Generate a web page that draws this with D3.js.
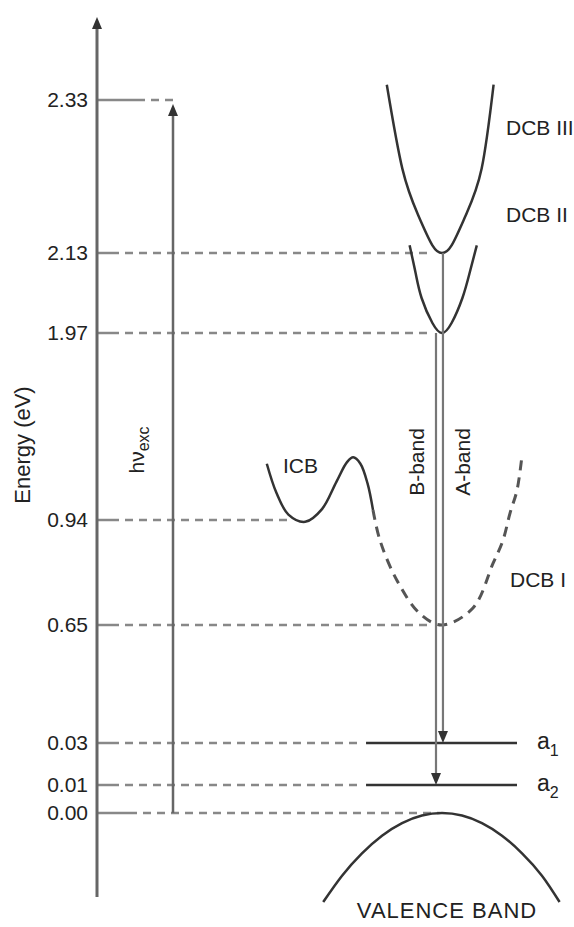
<!DOCTYPE html>
<html>
<head>
<meta charset="utf-8">
<script src="https://cdn.jsdelivr.net/npm/d3@7"></script>
<style>
body { margin: 0; background: #fff; }
text { font-family: "Liberation Sans", Arial, sans-serif; fill: #222; }
</style>
</head>
<body>
<div id="chart"></div>
<script>
// energy levels (eV) marked on the axis
var levels = [0.00, 0.01, 0.03, 0.65, 0.94, 1.97, 2.13, 2.33];
var tickLabels = ["0.00", "0.01", "0.03", "0.65", "0.94", "1.97", "2.13", "2.33"];

// band curves: [k (arbitrary units), energy eV]
var dcb3 = [[-0.46, 2.35], [-0.33, 2.24], [-0.2, 2.18], [-0.08, 2.14], [0, 2.13], [0.08, 2.14], [0.2, 2.18], [0.33, 2.24], [0.43, 2.35]];
var dcb2 = [[-0.27, 2.14], [-0.22, 2.09], [-0.17, 2.04], [-0.08, 1.99], [0, 1.97], [0.08, 1.99], [0.17, 2.04], [0.23, 2.09], [0.29, 2.14]];
var icb = [[-1.46, 1.25], [-1.38, 1.09], [-1.28, 0.97], [-1.14, 0.935], [-1.0, 1.0], [-0.88, 1.15], [-0.79, 1.26], [-0.74, 1.285], [-0.68, 1.25], [-0.62, 1.14], [-0.575, 0.995]];
var dcb1 = [[-0.575, 0.995], [-0.517, 0.884], [-0.375, 0.773], [-0.183, 0.681], [0, 0.65], [0.258, 0.697], [0.425, 0.82], [0.508, 0.884], [0.567, 0.978], [0.625, 1.104], [0.667, 1.296]];
var valence = [[-0.99, -0.0318], [-0.833, -0.0224], [-0.667, -0.0144], [-0.5, -0.0081], [-0.333, -0.0036], [-0.167, -0.0009], [0, 0],
               [0.167, -0.0009], [0.333, -0.0036], [0.5, -0.0081], [0.667, -0.0144], [0.833, -0.0224], [0.98, -0.0318]];

// trap levels a1, a2
var trapLevels = [0.03, 0.01];
var trapNames = ["1", "2"];

// emission transitions: A-band, B-band
var bandNames = ["A-band", "B-band"];
var bandFrom = [2.13, 1.97];
var bandTo = [0.03, 0.01];

var excFrom = 0.00, excTo = 2.33;

var width = 574, height = 927;
var axisX = 97, excX = 173;

var svg = d3.select("#chart").append("svg")
    .attr("width", width)
    .attr("height", height);

// schematic (non-linear) energy scale
var y = d3.scaleLinear().domain(levels).range([813, 785, 743, 625, 520, 333, 253, 100]);
var x = d3.scaleLinear().domain([-1, 1]).range([322, 562]);

var line = d3.line()
    .x(function(d) { return x(d[0]); })
    .y(function(d) { return y(d[1]); })
    .curve(d3.curveCatmullRom.alpha(0.5));
var smooth = d3.line()
    .x(function(d) { return x(d[0]); })
    .y(function(d) { return y(d[1]); })
    .curve(d3.curveNatural);

function arrowHead(g, cx, tipY, dir) {
    // dir = -1 points up, 1 points down
    var h = 12, w = 5;
    g.append("path")
        .attr("d", "M" + cx + "," + tipY + "L" + (cx - w) + "," + (tipY - dir * h) + "L" + (cx + w) + "," + (tipY - dir * h) + "Z")
        .attr("fill", "#333");
}

// guide lines from the axis
var stubLen = {"2.33": 48, "0.00": 40};
var guideEnd = {
    "0.00": x(-0.02), "0.01": x(-0.68), "0.03": x(-0.68), "0.65": x(-0.1),
    "0.94": x(-1.25), "1.97": x(-0.1), "2.13": x(-0.08), "2.33": excX + 5
};
var guides = svg.append("g");
levels.forEach(function(v, i) {
    var key = tickLabels[i];
    var s = axisX + (stubLen[key] || 22);
    guides.append("line")
        .attr("x1", axisX).attr("x2", s)
        .attr("y1", y(v)).attr("y2", y(v))
        .attr("stroke", "#888").attr("stroke-width", 2.5);
    guides.append("line")
        .attr("x1", s + 6).attr("x2", guideEnd[key])
        .attr("y1", y(v)).attr("y2", y(v))
        .attr("stroke", "#888").attr("stroke-width", 2.5)
        .attr("stroke-dasharray", "8,6");
});

// y axis
var axis = svg.append("g")
    .attr("transform", "translate(" + axisX + ",0)")
    .call(d3.axisLeft(y).tickValues(levels).tickFormat(function(d, i) { return tickLabels[i]; }).tickSize(0).tickPadding(9));
axis.select(".domain").remove();
axis.selectAll("text")
    .style("font-family", "'Liberation Sans', Arial, sans-serif")
    .style("font-size", "21px")
    .attr("fill", "#222");

svg.append("line")
    .attr("x1", axisX).attr("x2", axisX)
    .attr("y1", 897).attr("y2", 26)
    .attr("stroke", "#666").attr("stroke-width", 3);
arrowHead(svg, axisX, 17, -1);

svg.append("text")
    .attr("transform", "translate(30,445) rotate(-90)")
    .attr("text-anchor", "middle")
    .style("font-size", "22px")
    .text("Energy (eV)");

// excitation arrow
svg.append("line")
    .attr("x1", excX).attr("x2", excX)
    .attr("y1", y(excFrom)).attr("y2", y(excTo) + 14)
    .attr("stroke", "#666").attr("stroke-width", 2.5);
arrowHead(svg, excX, y(excTo) + 4, -1);

var hv = svg.append("text")
    .attr("transform", "translate(144,450) rotate(-90)")
    .attr("text-anchor", "middle")
    .style("font-size", "21px");
hv.append("tspan").text("hν");
hv.append("tspan").attr("dy", 5).style("font-size", "16px").text("exc");

// bands
var bands = svg.append("g").attr("fill", "none").attr("stroke", "#333").attr("stroke-width", 2.5);
bands.append("path").attr("d", smooth(dcb3));
bands.append("path").attr("d", smooth(dcb2));
bands.append("path").attr("d", line(icb));
bands.append("path").attr("d", line(dcb1)).attr("stroke", "#555").attr("stroke-width", 3).attr("stroke-dasharray", "10,7");
bands.append("path").attr("d", smooth(valence));

// trap levels
trapLevels.forEach(function(v, i) {
    svg.append("line")
        .attr("x1", x(-0.633)).attr("x2", x(0.625))
        .attr("y1", y(v)).attr("y2", y(v))
        .attr("stroke", "#333").attr("stroke-width", 2.5);
    var t = svg.append("text")
        .attr("x", 537).attr("y", y(v) + 6)
        .style("font-size", "23px");
    t.append("tspan").text("a");
    t.append("tspan").attr("dy", 7).style("font-size", "16px").text(trapNames[i]);
});

// emission transitions
var bandX = [x(0.008), x(-0.05)];
bandNames.forEach(function(name, i) {
    svg.append("line")
        .attr("x1", bandX[i]).attr("x2", bandX[i])
        .attr("y1", y(bandFrom[i])).attr("y2", y(bandTo[i]) - 10)
        .attr("stroke", "#777").attr("stroke-width", 2.2);
    arrowHead(svg, bandX[i], y(bandTo[i]), 1);
});

svg.append("text")
    .attr("transform", "translate(424,462) rotate(-90)")
    .attr("text-anchor", "middle")
    .style("font-size", "21px")
    .text("B-band");
svg.append("text")
    .attr("transform", "translate(470,462) rotate(-90)")
    .attr("text-anchor", "middle")
    .style("font-size", "21px")
    .text("A-band");

// band labels
svg.append("text").attr("x", 283).attr("y", 473).style("font-size", "21px").text("ICB");
svg.append("text").attr("x", 510).attr("y", 587).style("font-size", "21px").text("DCB I");
svg.append("text").attr("x", 506).attr("y", 222).style("font-size", "21px").text("DCB II");
svg.append("text").attr("x", 506).attr("y", 135).style("font-size", "21px").text("DCB III");
svg.append("text").attr("x", 447).attr("y", 918)
    .attr("text-anchor", "middle")
    .style("font-size", "22px")
    .style("letter-spacing", "1px")
    .text("VALENCE BAND");
</script>
</body>
</html>
